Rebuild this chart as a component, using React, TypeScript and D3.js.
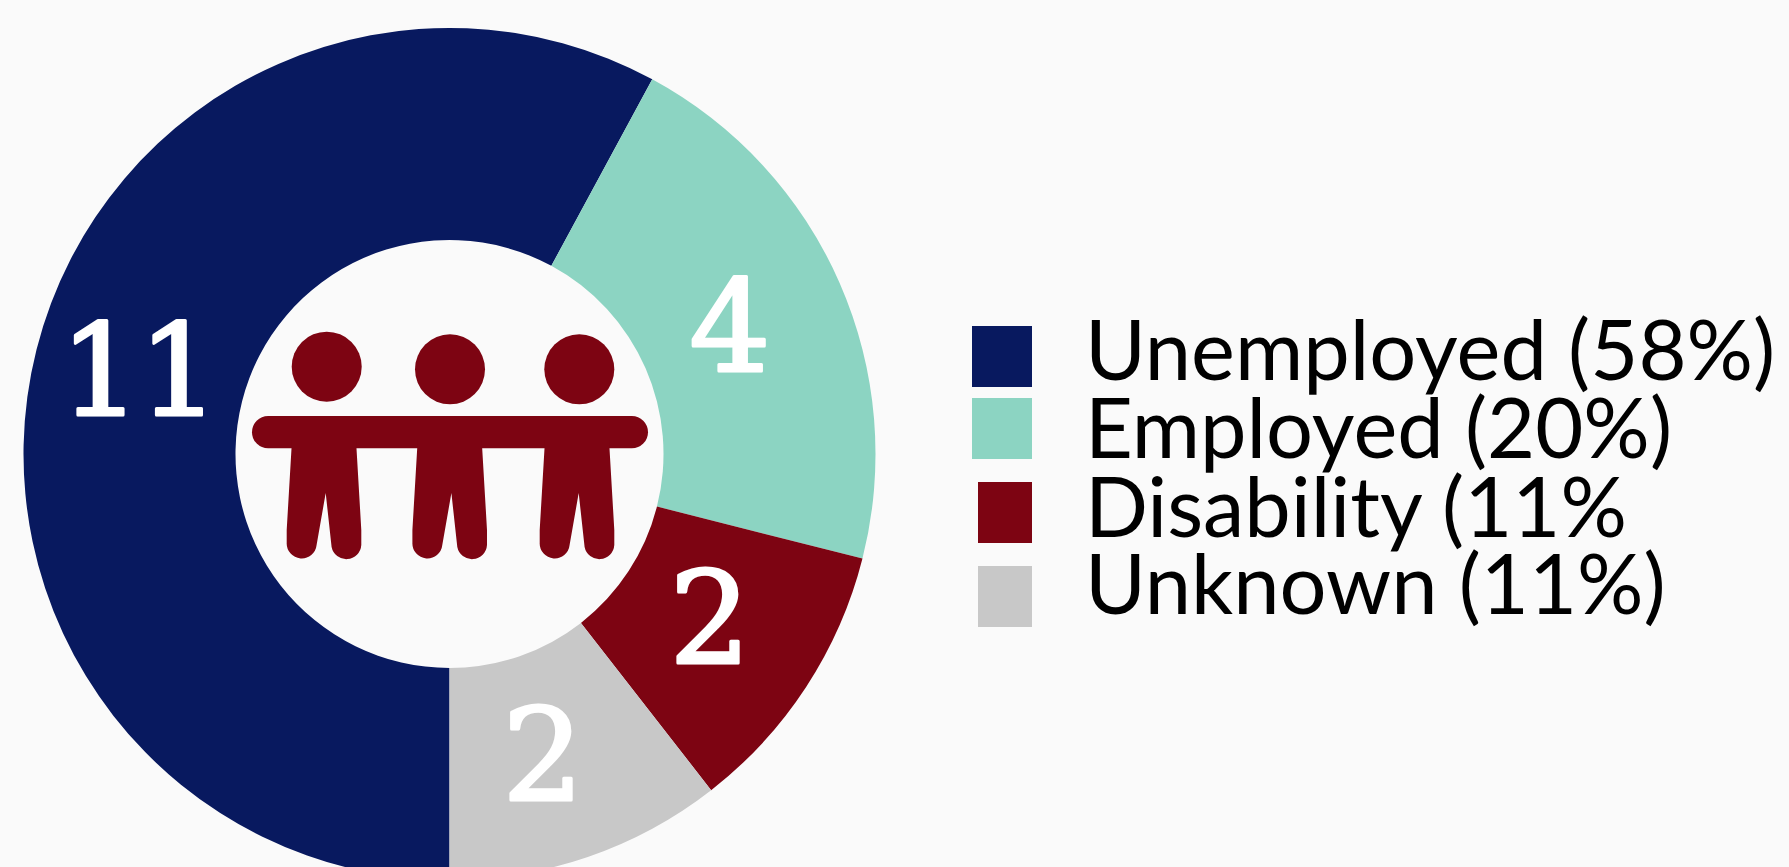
import React from "react";
import * as d3 from "d3";

const categories = ["Unemployed", "Employed", "Disability", "Unknown"];
const counts = [11, 4, 2, 2];
const legendTexts = ["Unemployed (58%)", "Employed (20%)", "Disability (11%", "Unknown (11%)"];
const colors = ["#08195f", "#8cd4c2", "#7d0412", "#c8c8c8"];

const W = 1789;
const H = 867;
const BG = "#fafafa";
const MAROON = "#7d0412";
const cx = 449.5;
const cy = 454;
const outerR = 426;
const innerR = 214;

const labelNudge = [[-1, 40], [-14, 46], [-9, 34], [-12, 43]];
const swatches = [
  { x: 972, y: 326, w: 60, h: 61 },
  { x: 972, y: 398, w: 60, h: 61 },
  { x: 978, y: 482, w: 54, h: 61 },
  { x: 978, y: 566, w: 54, h: 61 },
];
const legendBaselines = [380, 458, 537, 614];

const heads = [
  { x: 326.7, y: 366.7 },
  { x: 450, y: 369.3 },
  { x: 579.3, y: 369.3 },
];
const bodyOffsets = [0, 125.7, 253];

const bodyPath =
  "M292 440 L356 440 L361.3 530 L361.3 545 A15 15 0 0 1 331.6 547 L325.7 493 L316.6 545 A15 15 0 0 1 286.7 542.7 L286.7 530 Z";

export default function App() {
  const pie = d3
    .pie<number>()
    .sort(null)
    .startAngle(Math.PI)
    .endAngle(3 * Math.PI);
  const arcs = pie(counts);
  const arc = d3.arc<d3.PieArcDatum<number>>().innerRadius(innerR).outerRadius(outerR);

  return (
    <svg
      width={W}
      height={H}
      viewBox={`0 0 ${W} ${H}`}
      style={{ position: "absolute", left: 0, top: 0, display: "block" }}
    >
      <rect x={0} y={0} width={W} height={H} fill={BG} />
      <g transform={`translate(${cx},${cy})`}>
        {arcs.map((a, i) => (
          <path key={categories[i]} d={arc(a) ?? ""} fill={colors[i]} />
        ))}
        {arcs.map((a, i) => {
          const [x, y] = arc.centroid(a);
          return (
            <text
              key={`n-${i}`}
              x={x + labelNudge[i][0]}
              y={y + labelNudge[i][1]}
              textAnchor="middle"
              fontFamily="'DejaVu Serif'"
              fontSize={128}
              letterSpacing={-3}
              fill="#ffffff"
              stroke="#ffffff"
              strokeWidth={3}
              strokeLinejoin="round"
            >
              {counts[i]}
            </text>
          );
        })}
      </g>

      <g fill={MAROON}>
        {heads.map((h, i) => (
          <circle key={i} cx={h.x} cy={h.y} r={35} />
        ))}
        <rect x={252} y={416} width={396} height={32.3} rx={16.15} />
        {bodyOffsets.map((o, i) => (
          <path key={i} d={bodyPath} transform={`translate(${o},0)`} />
        ))}
      </g>

      {categories.map((c, i) => (
        <g key={c}>
          <rect
            x={swatches[i].x}
            y={swatches[i].y}
            width={swatches[i].w}
            height={swatches[i].h}
            fill={colors[i]}
          />
          <text
            transform={`translate(1085,${legendBaselines[i]}) scale(0.988,1)`}
            fontFamily="Lato"
            fontSize={84}
            fontWeight={400}
            fill="#000000"
          >
            {legendTexts[i]}
          </text>
        </g>
      ))}
    </svg>
  );
}
